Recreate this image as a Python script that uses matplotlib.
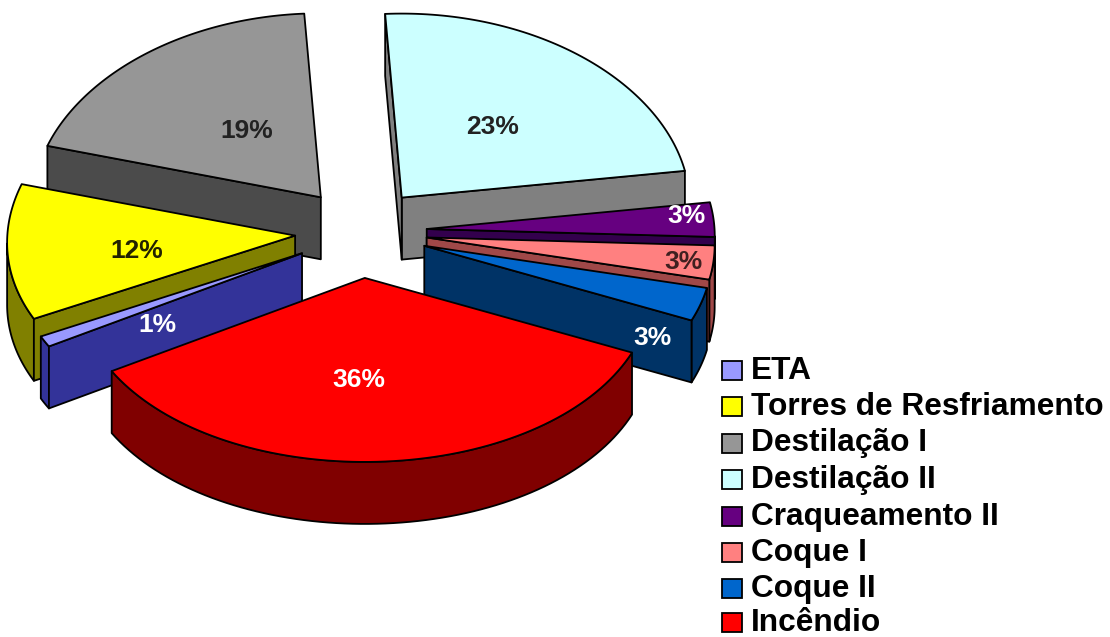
import numpy as np
import matplotlib

matplotlib.use("Agg")

import matplotlib.pyplot as plt
from matplotlib.patches import Polygon, Rectangle

# slices, clockwise from the lower left
categories = ["ETA", "Torres de Resfriamento", "Destilação I", "Destilação II",
              "Craqueamento II", "Coque I", "Coque II", "Incêndio"]
values = [1, 12, 19, 23, 3, 3, 3, 36]

_TOP_COLORS = ["#9999ff", "#ffff00", "#969696", "#ccffff", "#660080", "#ff8080", "#0066cc", "#ff0000"]
_SIDE_COLORS = ["#333399", "#808000", "#4b4b4b", "#808080", "#33004d", "#a04848", "#003366", "#800000"]
_LABEL_COLORS = ["white", "#222200", "#222222", "#222222", "white", "#402020", "white", "white"]
_LABEL_POS = [(157, 325), (137, 251), (247, 131), (493, 127), (686, 216), (683, 262), (652, 338), (359, 380)]
_DRAW_ORDER = [2, 3, 1, 4, 5, 6, 0, 7]

_CENTER = (361.0, 233.0)
_A, _B = 288.0, 184.0
_SAG = 7.0  # the sides of the rim sit a bit lower, a perspective effect
_DEPTH = 62.0
_EXPLODE = (66.0, 45.0)
_START = 208.5


def rim(cx, cy, t1, t2, n=80):
    t = np.radians(np.linspace(t1, t2, n))
    return np.column_stack([cx + _A * np.cos(t), cy - _B * np.sin(t) + _SAG * np.cos(t) ** 2])


def faces_viewer(angle):
    return np.sin(np.radians(angle)) < 0


def draw_slice(ax, t1, t2, top, side):
    mid = np.radians((t1 + t2) / 2)
    cx = _CENTER[0] + _EXPLODE[0] * np.cos(mid)
    cy = _CENTER[1] - _EXPLODE[1] * np.sin(mid)
    down = np.array([0, _DEPTH])
    tip = np.array([cx, cy])
    edge = rim(cx, cy, t1, t2)
    kw = dict(edgecolor="black", linewidth=1.3, joinstyle="round")

    # outer wall, only the part facing the viewer
    t = np.linspace(t1, t2, 80)
    front = edge[faces_viewer(t)]
    if len(front) > 1:
        ax.add_patch(Polygon(np.vstack([front, (front + down)[::-1]]), facecolor=side, **kw))

    # cut faces whose outward side points at the viewer
    if faces_viewer(t1 - 90):
        ax.add_patch(Polygon([tip, edge[0], edge[0] + down, tip + down], facecolor=side, **kw))
    if faces_viewer(t2 + 90):
        ax.add_patch(Polygon([tip, edge[-1], edge[-1] + down, tip + down], facecolor=side, **kw))

    ax.add_patch(Polygon(np.vstack([tip, edge]), facecolor=top, **kw))


fig = plt.figure(figsize=(11.10, 6.37), dpi=100)
ax = fig.add_axes([0, 0, 1, 1])
ax.set_xlim(0, 1110)
ax.set_ylim(637, 0)
ax.axis("off")

spans = np.array(values) / sum(values) * 360.0
ends = _START - np.cumsum(spans)
starts = ends + spans

for i in _DRAW_ORDER:
    draw_slice(ax, ends[i], starts[i], _TOP_COLORS[i], _SIDE_COLORS[i])

for i, value in enumerate(values):
    x, y = _LABEL_POS[i]
    ax.text(x, y, f"{value}%", ha="center", va="center", fontsize=19, fontweight="bold",
            family="Liberation Sans", color=_LABEL_COLORS[i])

legend_y = [379, 415, 451.5, 488, 524.5, 561, 597, 631]
for name, color, y in zip(categories, _TOP_COLORS, legend_y):
    ax.add_patch(Rectangle((722, y - 18), 20, 19, facecolor=color, edgecolor="black", linewidth=1.3))
    ax.text(751, y, name, ha="left", va="baseline", fontsize=22.8, fontweight="bold",
            family="Liberation Sans", color="black")

fig.savefig("out.png", dpi=100)
plt.close(fig)
